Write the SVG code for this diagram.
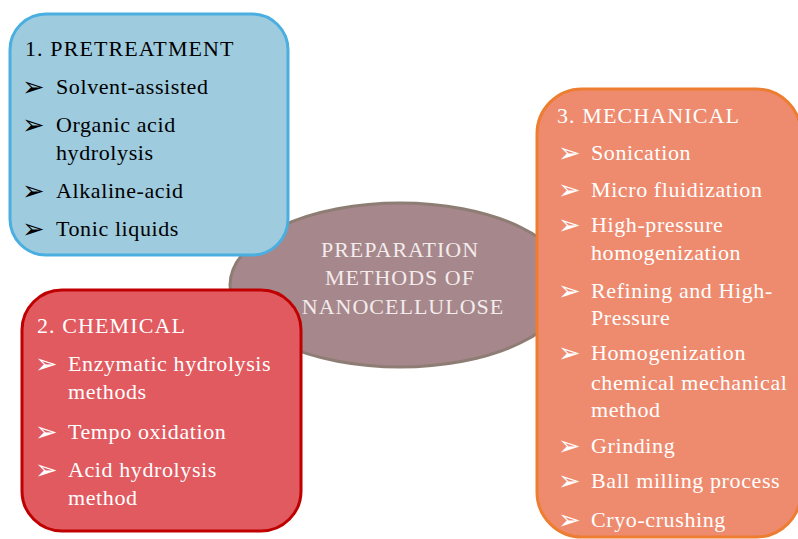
<svg xmlns="http://www.w3.org/2000/svg" width="798" height="539" viewBox="0 0 798 539">
<style>
.h{font-family:"Liberation Serif","Times New Roman",serif;font-size:22px;letter-spacing:1.1px}
.t{font-family:"Liberation Serif","Times New Roman",serif;font-size:22px;letter-spacing:0.6px}
.b{font-family:"DejaVu Sans",sans-serif;font-size:27px}
.dark{fill:#000}
.light{fill:#fff}
.c{font-family:"Liberation Serif","Times New Roman",serif;font-size:22px;letter-spacing:1px;fill:#f3ebec;text-anchor:middle}
</style>
<rect width="798" height="539" fill="#fff"/>
<g id="center">
<ellipse cx="400" cy="285" rx="170" ry="82" fill="#a6878b" stroke="#8e7d74" stroke-width="3"/>
<text class="c" x="400" y="257">PREPARATION</text>
<text class="c" x="400" y="285">METHODS OF</text>
<text class="c" x="403" y="314">NANOCELLULOSE</text>
</g>
<g id="connectors"></g>
<g id="pretreatment">
<rect x="10" y="14" width="278" height="241" rx="36" fill="#9ecbde" stroke="#4aafe0" stroke-width="3"/>
<text class="h dark" x="25" y="56">1. PRETREATMENT</text>
<text class="b dark" x="22" y="96">➢</text><text class="t dark" x="56" y="94">Solvent-assisted</text>
<text class="b dark" x="22" y="134">➢</text><text class="t dark" x="56" y="132">Organic acid</text>
<text class="t dark" x="56" y="160">hydrolysis</text>
<text class="b dark" x="22" y="200">➢</text><text class="t dark" x="56" y="198">Alkaline-acid</text>
<text class="b dark" x="22" y="238">➢</text><text class="t dark" x="56" y="236">Tonic liquids</text>
</g>
<g id="chemical">
<rect x="22" y="290" width="279" height="241" rx="40" fill="#e05a60" stroke="#c00000" stroke-width="3"/>
<text class="h light" x="37" y="333">2. CHEMICAL</text>
<text class="b light" x="35" y="373">➢</text><text class="t light" x="68" y="371">Enzymatic hydrolysis</text>
<text class="t light" x="68" y="399">methods</text>
<text class="b light" x="35" y="441">➢</text><text class="t light" x="68" y="439">Tempo oxidation</text>
<text class="b light" x="35" y="479">➢</text><text class="t light" x="68" y="477">Acid hydrolysis</text>
<text class="t light" x="68" y="505">method</text>
</g>
<g id="mechanical">
<rect x="537" y="89" width="264" height="448" rx="45" fill="#ee8b6f" stroke="#ed7d31" stroke-width="3"/>
<text class="h light" x="557" y="123">3. MECHANICAL</text>
<text class="b light" x="558" y="162">➢</text><text class="t light" x="591" y="160">Sonication</text>
<text class="b light" x="558" y="199">➢</text><text class="t light" x="591" y="197">Micro fluidization</text>
<text class="b light" x="558" y="234">➢</text><text class="t light" x="591" y="232">High-pressure</text>
<text class="t light" x="591" y="260">homogenization</text>
<text class="b light" x="558" y="300">➢</text><text class="t light" x="591" y="298">Refining and High-</text>
<text class="t light" x="591" y="325">Pressure</text>
<text class="b light" x="558" y="362">➢</text><text class="t light" x="591" y="360">Homogenization</text>
<text class="t light" x="591" y="390">chemical mechanical</text>
<text class="t light" x="591" y="417">method</text>
<text class="b light" x="558" y="455">➢</text><text class="t light" x="591" y="453">Grinding</text>
<text class="b light" x="558" y="490">➢</text><text class="t light" x="591" y="488">Ball milling process</text>
<text class="b light" x="558" y="529">➢</text><text class="t light" x="591" y="527">Cryo-crushing</text>
</g>
</svg>
